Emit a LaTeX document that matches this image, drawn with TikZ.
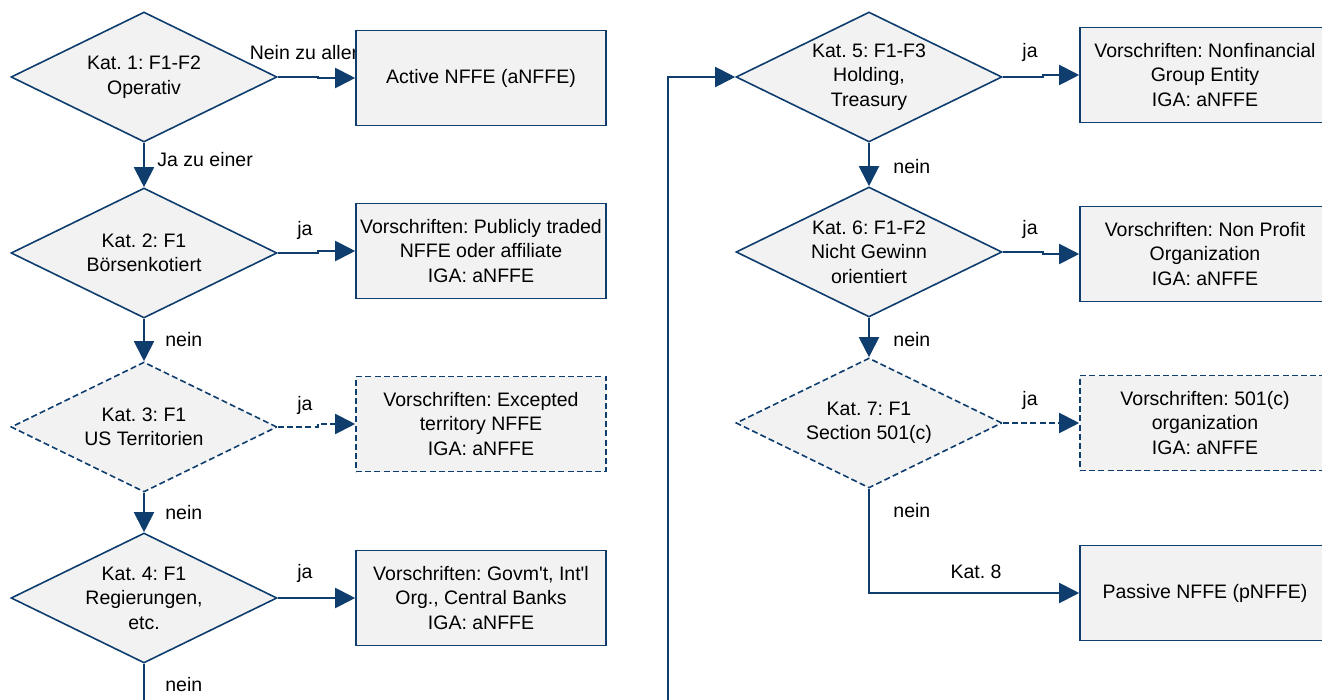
\documentclass[tikz,border=0pt]{standalone}
\usepackage{fontspec}
\setmainfont{Liberation Sans}
\frenchspacing
\usetikzlibrary{shapes.geometric,arrows.meta}
\definecolor{katblue}{RGB}{14,61,110}
\definecolor{katfill}{RGB}{242,242,242}
\tikzset{
  katfont/.style={font=\fontsize{9.75pt}{12.25pt}\selectfont},
  kat/.style={diamond,draw=katblue,fill=katfill,line width=0.8pt,aspect=2,inner sep=0pt,
    minimum width=133pt,minimum height=65pt,align=center,katfont},
  rule/.style={rectangle,draw=katblue,fill=katfill,line width=0.8pt,inner xsep=1pt,
    minimum width=125pt,minimum height=47.5pt,align=center,katfont},
  maybe/.style={dash pattern=on 3pt off 1.6pt},
  conn/.style={draw=katblue,line width=1pt,-{Triangle[length=10pt,width=10pt]}},
  lbl/.style={inner sep=0pt,katfont}
}
\begin{document}
\begin{tikzpicture}[x=0.5pt,y=-0.5pt]
  \useasboundingbox (0,0) rectangle (1322,700);
  \node[lbl] at (304,53) {Nein zu aller};
  \node[lbl,anchor=west] at (157,160) {Ja zu einer};
  \node[lbl] at (305,230) {ja};
  \node[lbl,anchor=west] at (165,340) {nein};
  \node[lbl] at (305,405) {ja};
  \node[lbl,anchor=west] at (165,513) {nein};
  \node[lbl] at (305,573) {ja};
  \node[lbl,anchor=west] at (165,685) {nein};
  \node[lbl] at (1030,52) {ja};
  \node[lbl,anchor=west] at (893,167) {nein};
  \node[lbl] at (1030,229) {ja};
  \node[lbl,anchor=west] at (893,340) {nein};
  \node[lbl] at (1030,400) {ja};
  \node[lbl,anchor=west] at (893,511) {nein};
  \node[lbl] at (976,572) {Kat. 8};

  \node[kat] (kat1) at (144,77) {Kat. 1: F1-F2\\Operativ};
  \node[kat] (kat2) at (144,253) {Kat. 2: F1\\Börsenkotiert};
  \node[kat,maybe] (kat3) at (144,427) {Kat. 3: F1\\US Territorien};
  \node[kat] (kat4) at (144,598) {Kat. 4: F1\\Regierungen,\\etc.};
  \node[kat] (kat5) at (869,77) {Kat. 5: F1-F3\\Holding,\\Treasury};
  \node[kat] (kat6) at (869,252) {Kat. 6: F1-F2\\Nicht Gewinn\\orientiert};
  \node[kat,maybe] (kat7) at (869,423) {Kat. 7: F1\\Section 501(c)};

  \node[rule] (anffe) at (481,78) {Active NFFE (aNFFE)};
  \node[rule] (rule2) at (481,251) {Vorschriften: Publicly traded\\NFFE oder affiliate\\IGA: aNFFE};
  \node[rule,maybe] (rule3) at (481,424) {Vorschriften: Excepted\\territory NFFE\\IGA: aNFFE};
  \node[rule] (rule4) at (481,598) {Vorschriften: Govm\textquotesingle t, Int\textquotesingle l\\Org., Central Banks\\IGA: aNFFE};
  \node[rule] (rule5) at (1205,75) {Vorschriften: Nonfinancial\\Group Entity\\IGA: aNFFE};
  \node[rule] (rule6) at (1205,254) {Vorschriften: Non Profit\\Organization\\IGA: aNFFE};
  \node[rule,maybe] (rule7) at (1205,423) {Vorschriften: 501(c)\\organization\\IGA: aNFFE};
  \node[rule] (pnffe) at (1205,593) {Passive NFFE (pNFFE)};

  \coordinate (loopbot) at (668,760);

  \draw[conn] (kat1.east) -- ++(40,0) |- (anffe.west);
  \draw[conn] (kat2.east) -- ++(40,0) |- (rule2.west);
  \draw[conn,maybe] (kat3.east) -- ++(40,0) |- (rule3.west);
  \draw[conn] (kat4.east) -- ++(40,0) |- (rule4.west);
  \draw[conn] (kat5.east) -- ++(40,0) |- (rule5.west);
  \draw[conn] (kat6.east) -- ++(40,0) |- (rule6.west);
  \draw[conn,maybe] (kat7.east) -- ++(40,0) |- (rule7.west);
  \draw[conn] (kat7.south) |- (pnffe.west);

  \draw[conn] (kat1.south) -- (kat2.north);
  \draw[conn] (kat2.south) -- (kat3.north);
  \draw[conn] (kat3.south) -- (kat4.north);
  \draw[conn] (kat4.south) |- (loopbot) |- (kat5.west);
  \draw[conn] (kat5.south) -- (kat6.north);
  \draw[conn] (kat6.south) -- (kat7.north);
\end{tikzpicture}
\end{document}
